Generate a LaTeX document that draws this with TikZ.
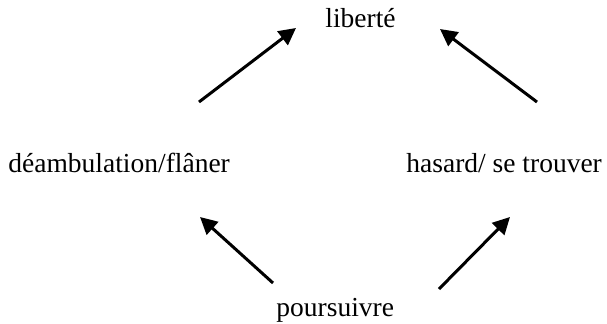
\documentclass[tikz,border=0pt]{standalone}
\usepackage{fontspec}
\setmainfont{Liberation Serif}
\usetikzlibrary{arrows.meta}

\begin{document}
\begin{tikzpicture}[x=0.5pt,y=-0.5pt,
  word/.style={font=\fontsize{13.75pt}{16pt}\selectfont, inner sep=0pt, anchor=base west},
  flow/.style={-{Triangle[length=8.5pt,width=8.5pt]}, line width=1.5pt}]
\useasboundingbox (0,0) rectangle (607,323);
% words
\node[word] (lib) at (325,27) {liberté};
\node[word] (dea) at (8,172) {déambulation/flâner};
\node[word] (has) at (406,172) {hasard/ se trouver};
\node[word] (pou) at (276,316) {poursuivre};
% arrow ends
\coordinate (tl0) at (199,102); \coordinate (tl1) at (296,28);
\coordinate (tr0) at (537,102); \coordinate (tr1) at (440,29);
\coordinate (bl0) at (273,283); \coordinate (bl1) at (200,217);
\coordinate (br0) at (439,289); \coordinate (br1) at (510,217);
% arrows
\foreach \a in {tl,tr,bl,br} {
  \draw[flow] (\a0) -- (\a1);
}
\end{tikzpicture}
\end{document}
